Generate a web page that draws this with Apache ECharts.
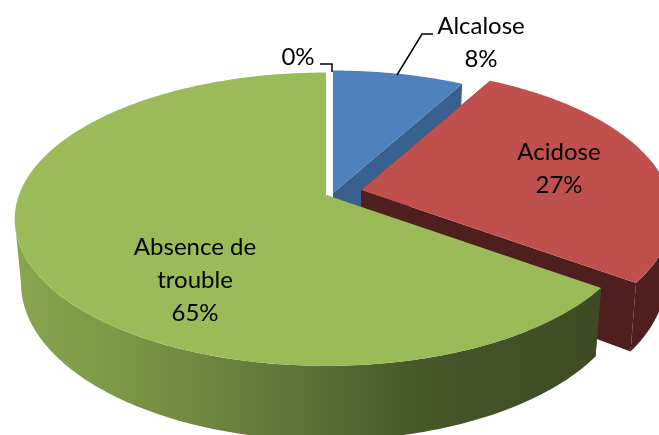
<!DOCTYPE html>
<html>
<head>
<meta charset="utf-8">
<script src="https://cdn.jsdelivr.net/npm/echarts@6/dist/echarts.min.js"></script>
<style>
  html, body { margin: 0; padding: 0; background: #fff; }
  #chart { width: 659px; height: 435px; }
</style>
</head>
<body>
<div id="chart"></div>
<script>
// valeurs, dans le sens horaire depuis le haut
const sliceNames = ['', 'Alcalose', 'Acidose', 'Absence de\ntrouble'];
const sliceValues = [0, 8, 27, 65];

// style du camembert
const topColors = ['#ffffff', '#4f81bd', '#c0504d', '#9bbb59'];
const wallColors = ['#ffffff', '#38618f', '#4f1f1f', {
  type: 'linear', x: 14, y: 0, x2: 600, y2: 0, global: true,
  colorStops: [
    {offset: 0, color: '#8aa54f'},
    {offset: 0.15, color: '#7f9a48'},
    {offset: 0.32, color: '#6f8741'},
    {offset: 0.5, color: '#5c7136'},
    {offset: 0.68, color: '#47582a'},
    {offset: 1, color: '#3e4a23'}
  ]
}];
const apexes = [[330, 195], [333, 193], [361, 190], [326, 195]]; // parts éclatées
const labelSpots = [[298, 57], [481, 43], [559, 169], [195, 280]];
const leaderLines = [
  [[320, 64], [332, 64], [332, 72]],
  [[433, 34], [422, 34], [397, 75]],
  null,
  null
];
const radiusX = 307;
const radiusY = 142.7;
const tilt = 0.165; // perspective
const depth = 62;
const bottomShrink = 0.98;

const total = sliceValues.reduce((a, b) => a + b, 0);

const renderSlice = (params) => {
  const i = params.dataIndex;
  const value = sliceValues[i];
  const before = sliceValues.slice(0, i).reduce((a, b) => a + b, 0);
  const from = before / total * Math.PI * 2;
  const to = (before + value) / total * Math.PI * 2;
  const [ax, ay] = apexes[i];

  const onTop = (a) => {
    const u = Math.sin(a);
    const v = -Math.cos(a);
    const w = 1 / (1 - tilt * v);
    return [ax + radiusX * u * w, ay + radiusY * v * w];
  };
  const onBottom = (a) => {
    const v = -Math.cos(a);
    const w = 1 / (1 - tilt * v);
    const p = onTop(a);
    return [ax + (p[0] - ax) * bottomShrink, p[1] + depth * w];
  };
  const arc = (start, end, onRing) => {
    const steps = Math.max(8, Math.round((end - start) * 60));
    const points = [];
    for (let s = 0; s <= steps; s++) {
      points.push(onRing(start + (end - start) * s / steps));
    }
    return points;
  };

  const children = [];
  if (value > 0) {
    const wall = wallColors[i];
    const side = (points) => children.push({
      type: 'polygon', shape: {points: points}, style: {fill: wall}
    });
    const apexBottom = [ax, ay + depth];
    side([[ax, ay], onTop(from), onBottom(from), apexBottom]);
    side([[ax, ay], onTop(to), onBottom(to), apexBottom]);
    // seule la partie avant du bord est visible
    const rightEdge = Math.acos(-tilt);
    const wallFrom = Math.max(from, rightEdge);
    const wallTo = Math.min(to, Math.PI * 2 - rightEdge);
    if (wallFrom < wallTo) {
      side(arc(wallFrom, wallTo, onTop).concat(arc(wallFrom, wallTo, onBottom).reverse()));
    }
    children.push({
      type: 'polygon',
      shape: {points: [[ax, ay]].concat(arc(from, to, onTop))},
      style: {fill: topColors[i]}
    });
  }
  if (leaderLines[i]) {
    children.push({
      type: 'polyline',
      shape: {points: leaderLines[i]},
      style: {fill: null, stroke: '#000', lineWidth: 1.5}
    });
  }
  const name = sliceNames[i];
  children.push({
    type: 'text',
    style: {
      text: (name ? name + '\n' : '') + value + '%',
      x: labelSpots[i][0],
      y: labelSpots[i][1],
      align: 'center',
      verticalAlign: 'middle',
      fill: '#000',
      font: '24px Lato',
      lineHeight: 33
    }
  });
  return {type: 'group', children: children};
};

const chart = echarts.init(document.getElementById('chart'));
chart.setOption({
  backgroundColor: '#fff',
  animation: false,
  series: [{
    type: 'custom',
    coordinateSystem: 'none',
    silent: true,
    renderItem: renderSlice,
    data: sliceValues
  }]
});
</script>
</body>
</html>
